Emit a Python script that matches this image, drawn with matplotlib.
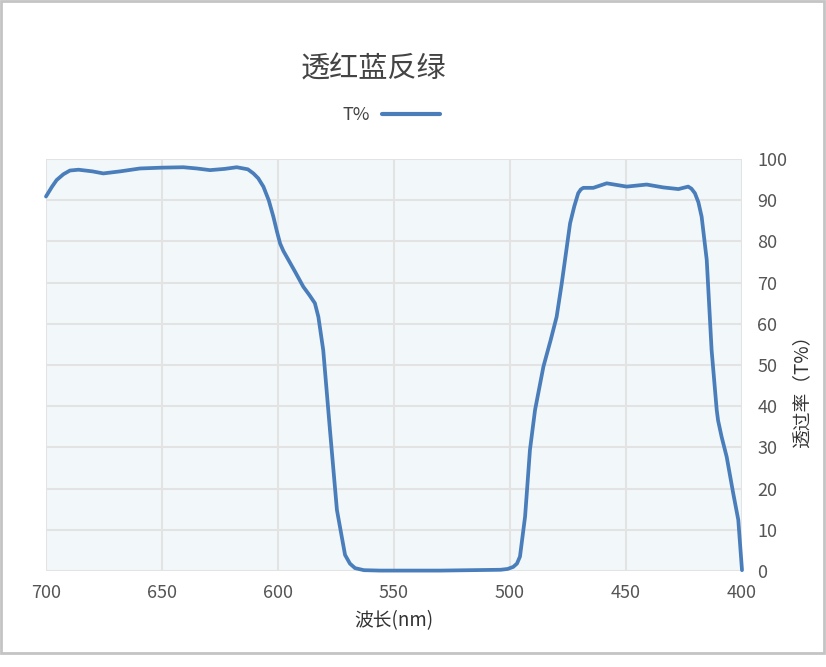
import matplotlib
matplotlib.use("Agg")
import matplotlib.pyplot as plt
from matplotlib.patches import Rectangle

plt.rcParams['font.family'] = ['Noto Sans CJK SC', 'DejaVu Sans']

# 透过率曲线
wavelength = [400, 401.6, 403.8, 406.6, 408.8, 410.3, 410.9, 413.1, 415.2, 417.4,
              418.8, 420.3, 421.8, 423.2, 427.4, 433.9, 441.1, 449.7, 458.3, 464.1,
              468.4, 469.5, 470.6, 472.3, 474.1, 477.7, 479.9, 482.5, 485.6, 489.2,
              491.4, 493.5, 495.7, 497.0, 498.6, 501.0, 504, 530,
              556, 563.0, 566.8, 569.0, 571.1, 574.6, 577.6, 580.5, 582.6, 584.1,
              586.5, 589.1, 592.5, 596.3, 597.7, 599.1, 600.5, 602.0, 604.0, 606.3,
              608.5, 610.6, 613.0, 617.8, 623.0, 629.3, 635.0, 640.8, 650.0, 659.5,
              668.0, 675.3, 680.0, 686.0, 689.7, 692.5, 695.4, 697.5, 700]
transmit = [0.2, 12.4, 18.9, 27.7, 32.6, 36.5, 39.1, 53.6, 75.5, 86.0,
            89.5, 91.7, 92.8, 93.3, 92.7, 93.1, 93.8, 93.3, 94.1, 93.0,
            93.0, 92.6, 91.7, 88.5, 84.4, 69.8, 61.7, 56.0, 49.6, 39.1,
            29.4, 13.2, 3.5, 1.8, 1.0, 0.5, 0.3, 0.1,
            0.1, 0.2, 0.7, 1.8, 3.9, 14.8, 34.2, 53.6, 61.7, 65.0,
            67.0, 69.0, 72.5, 76.3, 77.7, 79.5, 82.5, 86.0, 90.0, 93.3,
            95.3, 96.5, 97.5, 98.0, 97.6, 97.3, 97.7, 98.0, 97.9, 97.7,
            97.0, 96.5, 97.0, 97.4, 97.2, 96.3, 94.9, 93.2, 90.9]

title = '透红蓝反绿'
series_name = 'T%'
x_ticks = [700, 650, 600, 550, 500, 450, 400]
y_ticks = list(range(0, 101, 10))

line_color = '#4a7ebb'
text_color = '#555555'

fig = plt.figure(figsize=(8.26, 6.67), dpi=100)
fig.patches.append(Rectangle((1 / 826, 14 / 667), 823 / 826, 652 / 667,
                             transform=fig.transFigure, fill=False,
                             edgecolor='#c4c4c4', lw=2))

ax = fig.add_axes([46 / 826, 1 - 571 / 667, 696 / 826, 412 / 667])
ax.set_facecolor('#f2f7fa')
ax.plot(wavelength, transmit, color=line_color, lw=2.7,
        solid_joinstyle='round', solid_capstyle='round',
        label=series_name, clip_on=False)

ax.set_xlim(700, 400)
ax.set_ylim(0, 100)
ax.set_xticks(x_ticks)
ax.set_yticks(y_ticks)
ax.yaxis.tick_right()
ax.tick_params(length=0, labelsize=13, colors=text_color)
ax.tick_params(axis='x', pad=9)
ax.tick_params(axis='y', pad=11)
ax.grid(True, color='#e3e3e3', lw=1.5)
ax.set_axisbelow(True)
for s in ax.spines.values():
    s.set_visible(False)

ax.set_xlabel('波长(nm)', fontsize=13.5, color='#333333', labelpad=6)
fig.text(802 / 826, 1 - 387 / 667, '透过率（T%）', rotation=90,
         ha='center', va='center', fontsize=13.5, color='#333333')

fig.text(373 / 826, 1 - 70 / 667, title, ha='center', va='center',
         fontsize=21, color='#444444')
fig.legend(loc='center', bbox_to_anchor=(391 / 826, 1 - 115 / 667),
           frameon=False, markerfirst=False, fontsize=13,
           handlelength=3.2, handletextpad=0.7, labelcolor='#444444')
for h in fig.legends[0].get_lines():
    h.set_linewidth(3)

fig.savefig('out.png', dpi=100, facecolor='white')
